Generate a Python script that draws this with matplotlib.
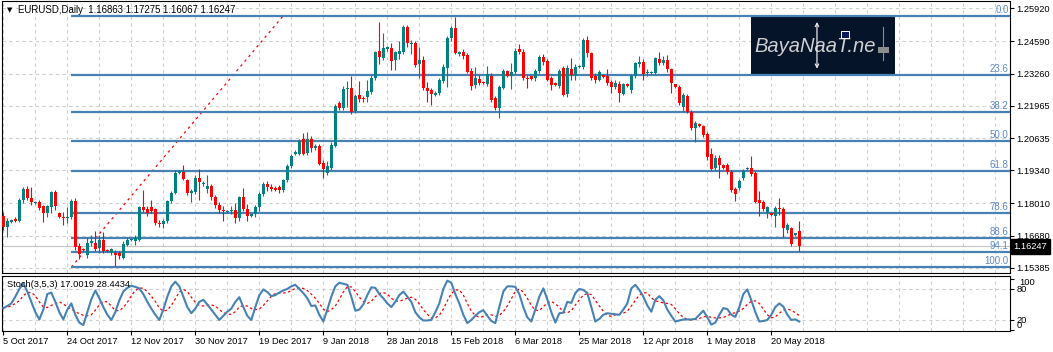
import matplotlib
matplotlib.use("Agg")
import matplotlib.pyplot as plt
from matplotlib.patches import Rectangle
import matplotlib.transforms as mtransforms
from matplotlib import font_manager
import numpy as np

plt.rcParams['font.family'] = ['Liberation Sans', 'DejaVu Sans']

# ---------------- data ----------------
opens = [
 1.1750,1.1702,1.1724,1.1735,1.1730,1.1812,1.1859,1.1821,1.1800,1.1806,
 1.1787,1.1760,1.1783,1.1845,1.1760,1.1746,1.1740,1.1746,1.1811,1.1628,
 1.1614,1.1591,1.1638,1.1640,1.1617,1.1652,1.1610,1.1598,1.1600,1.1597,
 1.1577,1.1631,1.1652,1.1645,1.1652,1.1783,1.1778,1.1783,1.1775,1.1722,
 1.1715,1.1728,1.1808,1.1843,1.1925,1.1928,1.1895,1.1840,1.1845,1.1903,
 1.1880,1.1860,1.1870,1.1826,1.1794,1.1772,1.1765,1.1770,1.1773,1.1742,
 1.1826,1.1777,1.1750,1.1755,1.1783,1.1838,1.1878,1.1866,1.1862,1.1868,
 1.1855,1.1893,1.1950,1.1999,1.2000,1.2060,1.2004,1.2062,1.2024,1.2033,
 1.1965,1.1925,1.1945,1.2034,1.2209,1.2188,1.2265,1.2270,1.2175,1.2240,
 1.2228,1.2232,1.2254,1.2308,1.2418,1.2392,1.2426,1.2432,1.2380,1.2405,
 1.2416,1.2515,1.2448,1.2452,1.2366,1.2382,1.2270,1.2260,1.2240,1.2250,
 1.2297,1.2351,1.2470,1.2511,1.2406,1.2416,1.2403,1.2339,1.2281,1.2306,
 1.2294,1.2285,1.2315,1.2228,1.2189,1.2270,1.2338,1.2315,1.2335,1.2426,
 1.2416,1.2310,1.2315,1.2307,1.2338,1.2396,1.2378,1.2308,1.2290,1.2278,
 1.2351,1.2243,1.2346,1.2315,1.2352,1.2355,1.2463,1.2410,1.2317,1.2301,
 1.2320,1.2315,1.2294,1.2274,1.2283,1.2245,1.2285,1.2260,1.2317,1.2365,
 1.2375,1.2328,1.2330,1.2331,1.2386,1.2369,1.2382,1.2344,1.2283,1.2274,
 1.2193,1.2236,1.2172,1.2105,1.2122,1.2114,1.2080,1.2000,1.1942,1.1986,
 1.1956,1.1956,1.1929,1.1858,1.1861,1.1904,1.1939,1.1945,1.1925,1.1814,
 1.1807,1.1760,1.1760,1.1750,1.1780,1.1776,1.1692,1.1699,1.1672,1.16863]
highs = [
 1.1765,1.1741,1.1738,1.1746,1.1822,1.1866,1.1872,1.1867,1.1810,1.1812,
 1.1792,1.1795,1.1850,1.1853,1.1765,1.1766,1.1786,1.1818,1.1820,1.1640,
 1.1617,1.1662,1.1670,1.1688,1.1670,1.1685,1.1614,1.1620,1.1611,1.1607,
 1.1645,1.1665,1.1658,1.1670,1.1790,1.1855,1.1790,1.1814,1.1782,1.1733,
 1.1735,1.1815,1.1850,1.1937,1.1935,1.1956,1.1900,1.1858,1.1915,1.1940,
 1.1890,1.1916,1.1880,1.1835,1.1806,1.1790,1.1772,1.1790,1.1800,1.1830,
 1.1862,1.1797,1.1758,1.1795,1.1845,1.1888,1.1890,1.1880,1.1870,1.1875,
 1.1900,1.1960,1.2000,1.2015,1.2062,1.2085,1.2088,1.2075,1.2040,1.2040,
 1.1975,1.1970,1.2050,1.2205,1.2215,1.2275,1.2295,1.2317,1.2245,1.2296,
 1.2235,1.2300,1.2320,1.2420,1.2538,1.2492,1.2440,1.2450,1.2420,1.2460,
 1.2525,1.2525,1.2462,1.2458,1.2436,1.2400,1.2294,1.2270,1.2255,1.2310,
 1.2365,1.2480,1.2520,1.2558,1.2420,1.2425,1.2410,1.2350,1.2355,1.2320,
 1.2298,1.2358,1.2330,1.2235,1.2280,1.2345,1.2342,1.2370,1.2430,1.2448,
 1.2425,1.2320,1.2318,1.2345,1.2402,1.2405,1.2385,1.2315,1.2293,1.2345,
 1.2358,1.2360,1.2389,1.2365,1.2360,1.2470,1.2480,1.2415,1.2330,1.2340,
 1.2325,1.2345,1.2300,1.2300,1.2295,1.2290,1.2288,1.2325,1.2375,1.2399,
 1.2385,1.2345,1.2338,1.2395,1.2413,1.2400,1.2402,1.2350,1.2286,1.2280,
 1.2250,1.2245,1.2178,1.2135,1.2125,1.2120,1.2090,1.2025,1.1995,1.1996,
 1.1960,1.1965,1.1935,1.1865,1.1900,1.1940,1.1948,1.1993,1.1930,1.1848,
 1.1815,1.1790,1.1765,1.1790,1.1820,1.1785,1.1720,1.1705,1.1680,1.17275]
lows = [
 1.1690,1.1662,1.1720,1.1724,1.1725,1.1800,1.1814,1.1794,1.1797,1.1773,
 1.1725,1.1745,1.1760,1.1773,1.1740,1.1712,1.1720,1.1735,1.1612,1.1575,
 1.1605,1.1578,1.1625,1.1605,1.1600,1.1598,1.1602,1.1590,1.1546,1.1575,
 1.1572,1.1625,1.1648,1.1630,1.1648,1.1763,1.1750,1.1760,1.1712,1.1705,
 1.1700,1.1722,1.1800,1.1838,1.1920,1.1893,1.1835,1.1807,1.1838,1.1815,
 1.1872,1.1843,1.1813,1.1780,1.1760,1.1730,1.1760,1.1755,1.1718,1.1730,
 1.1770,1.1730,1.1745,1.1745,1.1770,1.1830,1.1850,1.1850,1.1850,1.1840,
 1.1845,1.1885,1.1945,1.1995,1.1995,1.1995,1.1998,1.2010,1.2018,1.1955,
 1.1903,1.1915,1.1935,1.2030,1.2180,1.2180,1.2193,1.2163,1.2165,1.2210,
 1.2212,1.2212,1.2245,1.2300,1.2365,1.2380,1.2420,1.2342,1.2340,1.2385,
 1.2405,1.2435,1.2407,1.2355,1.2308,1.2260,1.2210,1.2200,1.2236,1.2240,
 1.2290,1.2274,1.2460,1.2405,1.2400,1.2385,1.2328,1.2260,1.2270,1.2280,
 1.2285,1.2275,1.2212,1.2180,1.2147,1.2265,1.2312,1.2265,1.2325,1.2405,
 1.2300,1.2270,1.2300,1.2298,1.2330,1.2360,1.2295,1.2260,1.2278,1.2270,
 1.2235,1.2230,1.2300,1.2300,1.2348,1.2345,1.2395,1.2300,1.2290,1.2295,
 1.2308,1.2280,1.2250,1.2265,1.2213,1.2238,1.2272,1.2250,1.2310,1.2355,
 1.2301,1.2315,1.2325,1.2325,1.2360,1.2360,1.2335,1.2247,1.2270,1.2200,
 1.2175,1.2165,1.2098,1.2048,1.2110,1.2070,1.1975,1.1935,1.1935,1.1904,
 1.1940,1.1920,1.1845,1.1811,1.1855,1.1895,1.1935,1.1910,1.1800,1.1750,
 1.1770,1.1740,1.1750,1.1705,1.1753,1.1665,1.1680,1.1628,1.1668,1.16067]
closes = [
 1.1702,1.1728,1.1733,1.1730,1.1815,1.1860,1.1821,1.1807,1.1807,1.1780,
 1.1760,1.1787,1.1845,1.1787,1.1745,1.1740,1.1746,1.1811,1.1622,1.1595,
 1.1609,1.1638,1.1645,1.1615,1.1652,1.1607,1.1605,1.1613,1.1588,1.1585,
 1.1635,1.1652,1.1655,1.1660,1.1783,1.1773,1.1761,1.1767,1.1720,1.1715,
 1.1728,1.1808,1.1843,1.1925,1.1930,1.1900,1.1841,1.1848,1.1903,1.1885,
 1.1884,1.1870,1.1826,1.1794,1.1772,1.1767,1.1770,1.1773,1.1742,1.1826,
 1.1777,1.1750,1.1755,1.1783,1.1838,1.1880,1.1866,1.1860,1.1855,1.1856,
 1.1893,1.1952,1.1993,1.2008,1.2053,1.2000,1.2062,1.2025,1.2033,1.1960,
 1.1938,1.1952,1.2037,1.2197,1.2188,1.2265,1.2270,1.2172,1.2234,1.2222,
 1.2222,1.2256,1.2310,1.2415,1.2395,1.2430,1.2433,1.2376,1.2413,1.2420,
 1.2518,1.2452,1.2453,1.2362,1.2382,1.2267,1.2256,1.2243,1.2250,1.2301,
 1.2355,1.2473,1.2511,1.2412,1.2416,1.2400,1.2335,1.2277,1.2310,1.2290,
 1.2288,1.2326,1.2220,1.2187,1.2274,1.2338,1.2315,1.2335,1.2419,1.2416,
 1.2308,1.2304,1.2305,1.2338,1.2396,1.2375,1.2301,1.2281,1.2281,1.2338,
 1.2240,1.2351,1.2321,1.2355,1.2356,1.2463,1.2410,1.2308,1.2301,1.2332,
 1.2312,1.2290,1.2274,1.2290,1.2247,1.2283,1.2275,1.2317,1.2369,1.2375,
 1.2324,1.2335,1.2335,1.2389,1.2371,1.2382,1.2344,1.2287,1.2273,1.2206,
 1.2240,1.2172,1.2105,1.2125,1.2114,1.2078,1.1990,1.1940,1.1986,1.1956,
 1.1943,1.1929,1.1854,1.1838,1.1891,1.1933,1.1945,1.1919,1.1807,1.1800,
 1.1777,1.1783,1.1753,1.1780,1.1776,1.1699,1.1712,1.1635,1.1679,1.16247]

stoch_main = [
 43,47,52,65,80,91,75,55,35,21,
 40,70,73,55,35,21,40,52,30,15,
 10,35,60,77,62,45,30,20,35,58,
 75,82,86,84,81,70,55,42,30,20,
 40,65,85,94,85,65,45,33,42,55,
 59,50,40,30,20,28,36,42,55,64,
 45,28,20,45,68,79,74,66,68,73,
 77,80,85,88,80,72,62,47,48,30,
 17,40,65,85,92,90,88,65,38,40,
 50,68,83,82,70,62,52,45,55,68,
 75,65,55,35,25,19,19,20,35,52,
 80,96,92,70,52,30,14,20,28,35,
 39,28,18,14,45,75,85,85,84,70,
 45,25,17,40,65,81,60,35,15,33,
 34,55,53,72,80,78,72,45,17,22,
 30,33,32,31,30,40,52,81,88,78,
 65,48,36,59,66,58,40,28,17,19,
 21,21,21,22,30,38,25,11,15,30,
 43,41,30,26,45,70,79,58,35,17,
 18,20,30,45,52,46,30,20,21,17.0019]
stoch_signal = [
 43,45,47,52,57,67,73,73,67,55,
 45,44,48,52,55,51,45,41,36,32,
 29,28,30,39,49,56,55,47,38,38,
 44,54,67,77,82,81,75,66,56,43,
 37,39,48,61,74,79,75,64,54,48,
 47,48,49,47,40,34,31,31,36,45,
 48,47,42,40,41,48,57,66,71,72,
 72,73,77,81,82,81,77,70,62,52,
 41,36,40,47,60,74,84,84,75,64,
 56,52,56,65,71,73,70,62,57,56,
 59,62,64,60,51,40,31,24,24,29,
 41,57,71,78,78,68,52,37,29,25,
 27,30,30,27,29,36,47,61,75,80,
 74,62,48,39,38,46,53,56,51,45,
 35,34,38,49,59,68,71,69,58,47,
 37,29,27,30,31,33,37,47,58,68,
 73,72,63,57,55,53,52,50,42,32,
 25,21,20,21,23,26,27,25,24,24,
 25,28,32,34,37,42,50,56,57,52,
 41,30,24,26,33,39,41,39,34,28.4434]

date_labels = ["5 Oct 2017", "24 Oct 2017", "12 Nov 2017", "30 Nov 2017",
               "19 Dec 2017", "9 Jan 2018", "28 Jan 2018", "15 Feb 2018",
               "6 Mar 2018", "25 Mar 2018", "12 Apr 2018", "1 May 2018",
               "20 May 2018"]
price_ticks = [1.25920, 1.24590, 1.23260, 1.21965, 1.20635,
               1.19340, 1.18010, 1.16680, 1.15385]
fib_levels = [0.0, 23.6, 38.2, 50.0, 61.8, 78.6, 88.6, 94.1, 100.0]
fib_high = 1.2562
fib_low = 1.1541
fib_anchor_bars = [17, 70]
symbol_title = "EURUSD,Daily  1.16863 1.17275 1.16067 1.16247"
stoch_title = "Stoch(3,5,3) 17.0019 28.4434"

# ---------------- figure ----------------
W, H = 1053, 352
fig = plt.figure(figsize=(W / 100, H / 100), dpi=100)
fig.patch.set_facecolor('white')
ax = fig.add_axes([2 / W, 79 / H, 1008 / W, 271.5 / H])
ax2 = fig.add_axes([2 / W, 21 / H, 1008 / W, 55 / H])

FS = 6.7
GRID = '#cfcfcf'
DASH = (0, (3, 3))
TEAL = '#008080'
RED = '#ff0000'
FIB = '#4682B4'

xmin, xmax = -0.33, 251.67
n = len(closes)
x = np.arange(n)
o = np.array(opens); h = np.array(highs); l = np.array(lows); c = np.array(closes)
up = c >= o
cols = np.where(up, TEAL, RED)

# main panel
ax.set_xlim(xmin, xmax)
ax.set_ylim(1.15169, 1.26196)
ax.set_axisbelow(True)

grid_bars = np.arange(0, 252, 8)
for gb in grid_bars:
    ax.axvline(gb, color=GRID, lw=0.8, ls=DASH, zorder=0)
    ax2.axvline(gb, color=GRID, lw=0.8, ls=DASH, zorder=0)
for pt in price_ticks:
    ax.axhline(pt, color=GRID, lw=0.8, ls=DASH, zorder=0)

# bid line
ax.axhline(closes[-1], color='#c4c4c4', lw=0.8, zorder=1)

# logo
names = {f.name for f in font_manager.fontManager.ttflist}
if 'Liberation Sans Narrow' in names:
    logo_font, logo_size = ['Liberation Sans Narrow'], 17
else:
    logo_font, logo_size = ['Liberation Sans'], 14.5
ax.add_patch(Rectangle((0.7431, 0.7311), 0.1428, 0.2137, transform=ax.transAxes,
                       facecolor='#06142a', edgecolor='none', zorder=2))
ax.text(0.7465, 0.836, "BayaNaaT.ne", transform=ax.transAxes, color='#d0d0d0',
        fontsize=logo_size, style='italic', family=logo_font, va='center',
        ha='left', zorder=3)
ax.annotate("", xy=(0.8085, 0.935), xytext=(0.8085, 0.742), xycoords='axes fraction',
            arrowprops=dict(arrowstyle='<->', color='#e8e8e8', lw=0.9,
                            mutation_scale=6), zorder=3)
ax.add_patch(Rectangle((0.8323, 0.8656), 0.0079, 0.0258, transform=ax.transAxes,
                       facecolor='#0a1a5a', edgecolor='white', lw=0.7, zorder=3))
ax.add_patch(Rectangle((0.869, 0.8103), 0.0109, 0.0221, transform=ax.transAxes,
                       facecolor='#8c8c8c', edgecolor='none', zorder=3))
ax.plot([0.8745, 0.8745], [0.785, 0.905], transform=ax.transAxes,
        color='#8c8c8c', lw=0.8, zorder=3)

# fibonacci
blend = mtransforms.blended_transform_factory(ax.transAxes, ax.transData)
for lv in fib_levels:
    p = fib_high - (fib_high - fib_low) * lv / 100.0
    ax.hlines(p, fib_anchor_bars[0], xmax, color=FIB, lw=1.6, zorder=5)
    ax.annotate(f"{lv:.1f}", xy=(1.0, p), xycoords=blend,
                xytext=(-1.0, 0.8), textcoords='offset points',
                ha='right', va='bottom', fontsize=FS + 0.3, color='#5f88c2', zorder=6)
ax.plot(fib_anchor_bars, [fib_low, fib_high], color=RED, lw=0.9,
        ls=(0, (2, 3)), zorder=4)

# candles
ax.vlines(x, l, h, colors=cols, lw=0.8, zorder=6)
body_b = np.minimum(o, c)
body_h = np.maximum(np.abs(c - o), 0.0003)
ax.bar(x, body_h, bottom=body_b, width=0.72, color=cols, linewidth=0, zorder=7)

# axes styling main
ax.yaxis.tick_right()
ax.set_yticks(price_ticks)
ax.set_yticklabels([f"{t:.5f}" for t in price_ticks])
ax.tick_params(axis='y', direction='out', length=3, width=0.8, pad=1.5,
               labelsize=FS, colors='black')
ax.set_xticks([])
for s in ax.spines.values():
    s.set_color('black'); s.set_linewidth(0.8)

# title
ax.text(0.0047, 0.9676, "\u25BC", transform=ax.transAxes, fontsize=5,
        family=['DejaVu Sans'], va='center', ha='left', color='black')
ax.text(0.0163, 0.9676, symbol_title, transform=ax.transAxes, fontsize=FS + 0.2,
        va='center', ha='left', color='black')

# current price label
ax.annotate(f"{closes[-1]:.5f}", xy=(1.0, closes[-1]), xycoords=blend,
            xytext=(2.5, 0), textcoords='offset points', ha='left', va='center',
            fontsize=FS, color='white', annotation_clip=False,
            bbox=dict(boxstyle='square,pad=0.28', fc='black', ec='black'))

# stochastic panel
ax2.set_xlim(xmin, xmax)
ax2.set_ylim(-1.35, 105)
for lvl in (20, 80):
    ax2.axhline(lvl, color=GRID, lw=0.8, ls=DASH, zorder=0)
ax2.plot(x, stoch_signal, color=RED, lw=0.9, ls=(0, (2, 2)), zorder=3)
ax2.plot(x, stoch_main, color=FIB, lw=1.5, zorder=4)
ax2.yaxis.tick_right()
ax2.set_yticks([0, 20, 80, 100])
ax2.set_yticklabels(['', '20', '80', ''])
ax2.tick_params(axis='y', direction='out', length=3, width=0.8, pad=1.5, labelsize=FS)
ytr = mtransforms.blended_transform_factory(ax2.transAxes, ax2.transData)
ax2.annotate("100", xy=(1.0, 100), xycoords=ytr, xytext=(6.5, 0.5),
             textcoords='offset points', ha='left', va='top', fontsize=FS,
             annotation_clip=False)
ax2.annotate("0", xy=(1.0, 0), xycoords=ytr, xytext=(4.5, 0.5),
             textcoords='offset points', ha='left', va='bottom', fontsize=FS,
             annotation_clip=False)
label_bars = list(range(0, 16 * len(date_labels), 16))
ax2.set_xticks(label_bars)
ax2.set_xticklabels(date_labels)
for t in ax2.get_xticklabels():
    t.set_horizontalalignment('left')
ax2.tick_params(axis='x', direction='out', length=3, width=0.8, pad=1.0, labelsize=FS)
for s in ax2.spines.values():
    s.set_color('black'); s.set_linewidth(0.8)
ax2.text(0.005, 0.93, stoch_title, transform=ax2.transAxes, fontsize=FS,
         va='top', ha='left', color='black', zorder=6)

fig.savefig("out.png", dpi=100, facecolor='white')
